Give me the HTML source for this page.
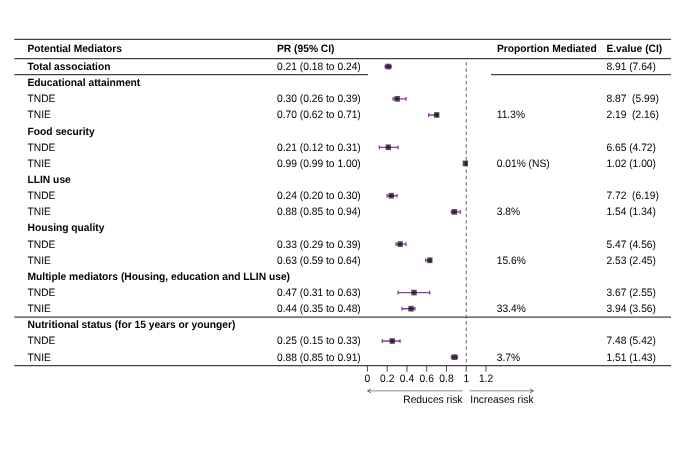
<!DOCTYPE html>
<html><head><meta charset="utf-8"><title>Forest plot</title>
<style>
html,body{margin:0;padding:0;background:#fff;}
svg{display:block;will-change:transform;}
text{font-family:"Liberation Sans",sans-serif;font-size:10.25px;fill:#000;text-rendering:geometricPrecision;}
.b{font-weight:bold;}
</style></head><body>
<svg width="685" height="451" viewBox="0 0 685 451">
<rect width="685" height="451" fill="#fff"/>
<line x1="14.30" y1="39.30" x2="671.00" y2="39.30" stroke="#444" stroke-width="1.25"/>
<line x1="14.30" y1="58.50" x2="671.00" y2="58.50" stroke="#444" stroke-width="1.25"/>
<line x1="14.30" y1="74.60" x2="368.00" y2="74.60" stroke="#444" stroke-width="1.25"/>
<line x1="491.00" y1="74.60" x2="671.00" y2="74.60" stroke="#444" stroke-width="1.25"/>
<line x1="14.30" y1="317.00" x2="671.00" y2="317.00" stroke="#444" stroke-width="1.25"/>
<line x1="14.30" y1="365.50" x2="671.00" y2="365.50" stroke="#444" stroke-width="1.25"/>
<text class="b" transform="translate(0 52.30) scale(1 1.035)" x="27.50" y="0">Potential Mediators</text>
<text class="b" transform="translate(0 52.30) scale(1 1.035)" x="277.00" y="0">PR (95% CI)</text>
<text class="b" transform="translate(0 52.30) scale(1 1.035)" x="497.00" y="0">Proportion Mediated</text>
<text class="b" transform="translate(0 52.30) scale(1 1.035)" x="606.40" y="0">E.value (CI)</text>
<line x1="466.25" y1="62" x2="466.25" y2="365.5" stroke="#4c4c4c" stroke-width="0.85" stroke-dasharray="3.6,2.72"/>
<text class="b" transform="translate(0 69.95) scale(1 1.035)" x="27.50" y="0">Total association</text>
<text transform="translate(0 69.95) scale(1 1.050)" x="277.00" y="0">0.21 (0.18 to 0.24)</text>
<text transform="translate(0 69.95) scale(1 1.050)" x="606.40" y="0">8.91 (7.64)</text>
<path stroke="#8e3ca0" stroke-width="1.35" fill="none" d="M385.23 66.57H391.16M385.23 64.72V68.42M391.16 64.72V68.42M388.20 64.72V68.42"/>
<rect x="385.60" y="63.67" width="5.4" height="5.7" fill="#000" fill-opacity="0.67"/>
<text class="b" transform="translate(0 86.09) scale(1 1.035)" x="27.50" y="0">Educational attainment</text>
<text transform="translate(0 102.24) scale(1 1.050)" x="27.50" y="0">TNDE</text>
<text transform="translate(0 102.24) scale(1 1.050)" x="277.00" y="0">0.30 (0.26 to 0.39)</text>
<text transform="translate(0 102.24) scale(1 1.050)" x="606.40" y="0">8.87  (5.99)</text>
<path stroke="#8e3ca0" stroke-width="1.35" fill="none" d="M393.14 98.86H405.98M393.14 97.01V100.71M405.98 97.01V100.71M397.09 97.01V100.71"/>
<rect x="394.49" y="95.96" width="5.4" height="5.7" fill="#000" fill-opacity="0.67"/>
<text transform="translate(0 118.39) scale(1 1.050)" x="27.50" y="0">TNIE</text>
<text transform="translate(0 118.39) scale(1 1.050)" x="277.00" y="0">0.70 (0.62 to 0.71)</text>
<text transform="translate(0 118.39) scale(1 1.050)" x="496.70" y="0">11.3%</text>
<text transform="translate(0 118.39) scale(1 1.050)" x="606.40" y="0">2.19  (2.16)</text>
<path stroke="#8e3ca0" stroke-width="1.35" fill="none" d="M428.71 115.01H437.60M428.71 113.16V116.86M437.60 113.16V116.86M436.61 113.16V116.86"/>
<rect x="434.01" y="112.11" width="5.4" height="5.7" fill="#000" fill-opacity="0.67"/>
<text class="b" transform="translate(0 134.53) scale(1 1.035)" x="27.50" y="0">Food security</text>
<text transform="translate(0 150.68) scale(1 1.050)" x="27.50" y="0">TNDE</text>
<text transform="translate(0 150.68) scale(1 1.050)" x="277.00" y="0">0.21 (0.12 to 0.31)</text>
<text transform="translate(0 150.68) scale(1 1.050)" x="606.40" y="0">6.65 (4.72)</text>
<path stroke="#8e3ca0" stroke-width="1.35" fill="none" d="M379.31 147.30H398.08M379.31 145.45V149.15M398.08 145.45V149.15M388.20 145.45V149.15"/>
<rect x="385.60" y="144.40" width="5.4" height="5.7" fill="#000" fill-opacity="0.67"/>
<text transform="translate(0 166.82) scale(1 1.050)" x="27.50" y="0">TNIE</text>
<text transform="translate(0 166.82) scale(1 1.050)" x="277.00" y="0">0.99 (0.99 to 1.00)</text>
<text transform="translate(0 166.82) scale(1 1.050)" x="496.70" y="0">0.01% (NS)</text>
<text transform="translate(0 166.82) scale(1 1.050)" x="606.40" y="0">1.02 (1.00)</text>
<path stroke="#8e3ca0" stroke-width="1.35" fill="none" d="M465.26 163.44H466.25M465.26 161.59V165.29M466.25 161.59V165.29M465.26 161.59V165.29"/>
<rect x="462.66" y="160.54" width="5.4" height="5.7" fill="#000" fill-opacity="0.67"/>
<text class="b" transform="translate(0 182.97) scale(1 1.035)" x="27.50" y="0">LLIN use</text>
<text transform="translate(0 199.11) scale(1 1.050)" x="27.50" y="0">TNDE</text>
<text transform="translate(0 199.11) scale(1 1.050)" x="277.00" y="0">0.24 (0.20 to 0.30)</text>
<text transform="translate(0 199.11) scale(1 1.050)" x="606.40" y="0">7.72  (6.19)</text>
<path stroke="#8e3ca0" stroke-width="1.35" fill="none" d="M387.21 195.73H397.09M387.21 193.88V197.58M397.09 193.88V197.58M391.16 193.88V197.58"/>
<rect x="388.56" y="192.83" width="5.4" height="5.7" fill="#000" fill-opacity="0.67"/>
<text transform="translate(0 215.26) scale(1 1.050)" x="27.50" y="0">TNIE</text>
<text transform="translate(0 215.26) scale(1 1.050)" x="277.00" y="0">0.88 (0.85 to 0.94)</text>
<text transform="translate(0 215.26) scale(1 1.050)" x="496.70" y="0">3.8%</text>
<text transform="translate(0 215.26) scale(1 1.050)" x="606.40" y="0">1.54 (1.34)</text>
<path stroke="#8e3ca0" stroke-width="1.35" fill="none" d="M451.43 211.88H460.32M451.43 210.03V213.73M460.32 210.03V213.73M454.39 210.03V213.73"/>
<rect x="451.79" y="208.98" width="5.4" height="5.7" fill="#000" fill-opacity="0.67"/>
<text class="b" transform="translate(0 231.40) scale(1 1.035)" x="27.50" y="0">Housing quality</text>
<text transform="translate(0 247.55) scale(1 1.050)" x="27.50" y="0">TNDE</text>
<text transform="translate(0 247.55) scale(1 1.050)" x="277.00" y="0">0.33 (0.29 to 0.39)</text>
<text transform="translate(0 247.55) scale(1 1.050)" x="606.40" y="0">5.47 (4.56)</text>
<path stroke="#8e3ca0" stroke-width="1.35" fill="none" d="M396.10 244.17H405.98M396.10 242.32V246.02M405.98 242.32V246.02M400.05 242.32V246.02"/>
<rect x="397.45" y="241.27" width="5.4" height="5.7" fill="#000" fill-opacity="0.67"/>
<text transform="translate(0 263.69) scale(1 1.050)" x="27.50" y="0">TNIE</text>
<text transform="translate(0 263.69) scale(1 1.050)" x="277.00" y="0">0.63 (0.59 to 0.64)</text>
<text transform="translate(0 263.69) scale(1 1.050)" x="496.70" y="0">15.6%</text>
<text transform="translate(0 263.69) scale(1 1.050)" x="606.40" y="0">2.53 (2.45)</text>
<path stroke="#8e3ca0" stroke-width="1.35" fill="none" d="M425.74 260.31H430.68M425.74 258.46V262.16M430.68 258.46V262.16M429.69 258.46V262.16"/>
<rect x="427.09" y="257.41" width="5.4" height="5.7" fill="#000" fill-opacity="0.67"/>
<text class="b" transform="translate(0 279.83) scale(1 1.035)" x="27.50" y="0">Multiple mediators (Housing, education and LLIN use)</text>
<text transform="translate(0 295.98) scale(1 1.050)" x="27.50" y="0">TNDE</text>
<text transform="translate(0 295.98) scale(1 1.050)" x="277.00" y="0">0.47 (0.31 to 0.63)</text>
<text transform="translate(0 295.98) scale(1 1.050)" x="606.40" y="0">3.67 (2.55)</text>
<path stroke="#8e3ca0" stroke-width="1.35" fill="none" d="M398.08 292.60H429.69M398.08 290.75V294.45M429.69 290.75V294.45M413.89 290.75V294.45"/>
<rect x="411.29" y="289.70" width="5.4" height="5.7" fill="#000" fill-opacity="0.67"/>
<text transform="translate(0 312.12) scale(1 1.050)" x="27.50" y="0">TNIE</text>
<text transform="translate(0 312.12) scale(1 1.050)" x="277.00" y="0">0.44 (0.35 to 0.48)</text>
<text transform="translate(0 312.12) scale(1 1.050)" x="496.70" y="0">33.4%</text>
<text transform="translate(0 312.12) scale(1 1.050)" x="606.40" y="0">3.94 (3.56)</text>
<path stroke="#8e3ca0" stroke-width="1.35" fill="none" d="M402.03 308.75H414.87M402.03 306.90V310.60M414.87 306.90V310.60M410.92 306.90V310.60"/>
<rect x="408.32" y="305.85" width="5.4" height="5.7" fill="#000" fill-opacity="0.67"/>
<text class="b" transform="translate(0 328.27) scale(1 1.035)" x="27.50" y="0">Nutritional status (for 15 years or younger)</text>
<text transform="translate(0 344.41) scale(1 1.050)" x="27.50" y="0">TNDE</text>
<text transform="translate(0 344.41) scale(1 1.050)" x="277.00" y="0">0.25 (0.15 to 0.33)</text>
<text transform="translate(0 344.41) scale(1 1.050)" x="606.40" y="0">7.48 (5.42)</text>
<path stroke="#8e3ca0" stroke-width="1.35" fill="none" d="M382.27 341.04H400.05M382.27 339.19V342.89M400.05 339.19V342.89M392.15 339.19V342.89"/>
<rect x="389.55" y="338.14" width="5.4" height="5.7" fill="#000" fill-opacity="0.67"/>
<text transform="translate(0 360.56) scale(1 1.050)" x="27.50" y="0">TNIE</text>
<text transform="translate(0 360.56) scale(1 1.050)" x="277.00" y="0">0.88 (0.85 to 0.91)</text>
<text transform="translate(0 360.56) scale(1 1.050)" x="496.70" y="0">3.7%</text>
<text transform="translate(0 360.56) scale(1 1.050)" x="606.40" y="0">1.51 (1.43)</text>
<path stroke="#8e3ca0" stroke-width="1.35" fill="none" d="M451.43 357.18H457.36M451.43 355.33V359.03M457.36 355.33V359.03M454.39 355.33V359.03"/>
<rect x="451.79" y="354.28" width="5.4" height="5.7" fill="#000" fill-opacity="0.67"/>
<line x1="367.45" y1="365.50" x2="367.45" y2="371.70" stroke="#3a3a3a" stroke-width="0.9"/>
<text transform="translate(0 381.80) scale(1 1.050)" x="367.45" y="0" text-anchor="middle">0</text>
<line x1="387.21" y1="365.50" x2="387.21" y2="371.70" stroke="#3a3a3a" stroke-width="0.9"/>
<text transform="translate(0 381.80) scale(1 1.050)" x="387.21" y="0" text-anchor="middle">0.2</text>
<line x1="406.97" y1="365.50" x2="406.97" y2="371.70" stroke="#3a3a3a" stroke-width="0.9"/>
<text transform="translate(0 381.80) scale(1 1.050)" x="406.97" y="0" text-anchor="middle">0.4</text>
<line x1="426.73" y1="365.50" x2="426.73" y2="371.70" stroke="#3a3a3a" stroke-width="0.9"/>
<text transform="translate(0 381.80) scale(1 1.050)" x="426.73" y="0" text-anchor="middle">0.6</text>
<line x1="446.49" y1="365.50" x2="446.49" y2="371.70" stroke="#3a3a3a" stroke-width="0.9"/>
<text transform="translate(0 381.80) scale(1 1.050)" x="446.49" y="0" text-anchor="middle">0.8</text>
<line x1="466.25" y1="365.50" x2="466.25" y2="371.70" stroke="#3a3a3a" stroke-width="0.9"/>
<text transform="translate(0 381.80) scale(1 1.050)" x="466.25" y="0" text-anchor="middle">1</text>
<line x1="486.01" y1="365.50" x2="486.01" y2="371.70" stroke="#3a3a3a" stroke-width="0.9"/>
<text transform="translate(0 381.80) scale(1 1.050)" x="486.01" y="0" text-anchor="middle">1.2</text>
<g stroke="#666" stroke-width="0.75" fill="none"><path d="M462.6 390.85H367.6"/><path d="M469.6 390.85H533.4"/></g>
<g stroke="#444" stroke-width="0.8" fill="none"><path d="M371.0 388.95L367.6 390.85L371.0 392.75"/><path d="M530.0 388.95L533.4 390.85L530.0 392.75"/></g>
<text transform="translate(0 402.70) scale(1 1.050)" x="462.50" y="0" text-anchor="end">Reduces risk</text>
<text transform="translate(0 402.70) scale(1 1.050)" x="470.30" y="0">Increases risk</text>
</svg>
</body></html>
